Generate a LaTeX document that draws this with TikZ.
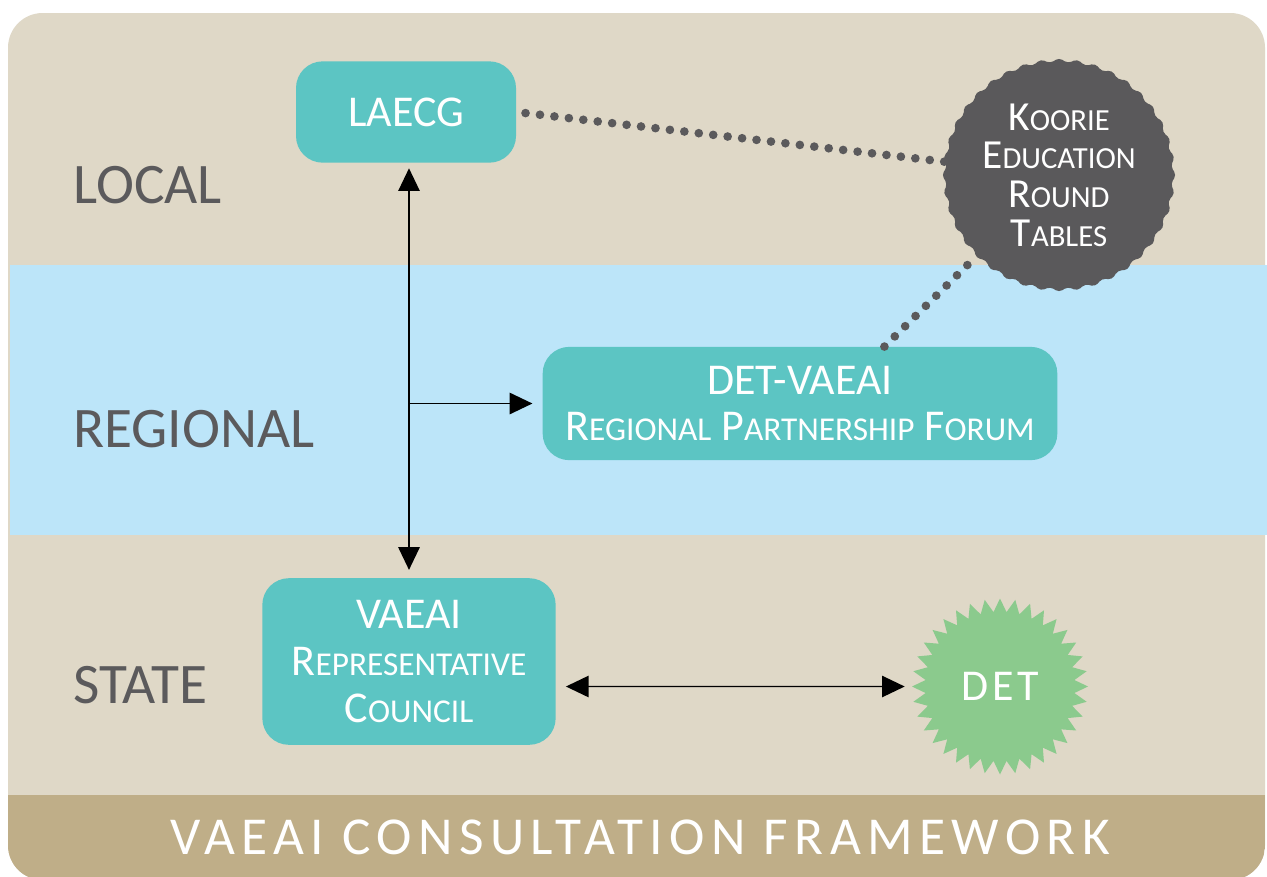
\documentclass[tikz,border=0pt]{standalone}
\usepackage{fontspec}
\setmainfont{Carlito}
\usetikzlibrary{arrows.meta, positioning, shapes.symbols, calc}

\definecolor{bandbeige}{HTML}{DFD8C7}
\definecolor{bandblue}{HTML}{BCE5F9}
\definecolor{boxteal}{HTML}{5CC5C3}
\definecolor{foottan}{HTML}{BFAE88}
\definecolor{labelgray}{HTML}{5B5A5C}
\definecolor{roundgray}{HTML}{5A595B}
\definecolor{detgreen}{HTML}{8BCA8D}

% small caps by hand: big initial, smaller capitals after it
\newcommand{\smcap}[3][25]{#2{\fontsize{#1}{#1}\selectfont #3}}

\begin{document}
\begin{tikzpicture}[
        x=0.75pt, y=-0.75pt,
        level/.style={
            anchor=base west,
            inner sep=0pt,
            text=labelgray,
            font=\fontsize{43}{43}\selectfont
        },
        box/.style={
            fill=boxteal,
            rounded corners=20pt,
            inner sep=0pt,
            align=center,
            text=white,
            font=\fontsize{33}{35}\selectfont
        },
        roundtable/.style={
            starburst, random starburst=0,
            starburst points=40,
            starburst point height=4pt,
            rounded corners=3pt,
            minimum size=176pt,
            inner sep=0pt,
            fill=roundgray,
            align=center,
            text=white,
            font=\fontsize{31}{29}\selectfont
        },
        seal/.style={
            starburst, random starburst=0,
            starburst points=36,
            starburst point height=10pt,
            minimum size=132pt,
            inner sep=0pt,
            fill=detgreen,
            text=white,
            font=\fontsize{33}{33}\selectfont\addfontfeatures{LetterSpace=8}
        },
        banner/.style={
            anchor=base,
            inner sep=0pt,
            text=white,
            font=\fontsize{40}{40}\selectfont\addfontfeatures{LetterSpace=12}
        },
        twoway/.style={
            {Triangle[length=17pt, width=16pt]}-{Triangle[length=17pt, width=16pt]},
            line width=1.1pt
        },
        oneway/.style={
            -{Triangle[length=17pt, width=16pt]},
            line width=1.1pt
        },
        dots/.style={
            labelgray,
            line width=6.5pt,
            line cap=round,
            dash pattern=on 0pt off 10.9pt
        }
    ]

    \useasboundingbox (0,0) rectangle (1267,876);
    \fill[white] (0,0) rectangle (1267,876);

    % bands
    \fill[bandbeige, rounded corners=26pt] (8,13) rectangle (1265,880);
    \fill[bandblue] (10,265) rectangle (1267,535);
    \begin{scope}
        \clip[rounded corners=26pt] (8,13) rectangle (1265,880);
        \fill[foottan] (8,795) rectangle (1265,880);
    \end{scope}

    \node[level] (local) at (73,203) {LOCAL};
    \node[level] (regional) at (73,447) {REGIONAL};
    \node[level] (state) at (73,703) {STATE};

    \node[banner] (title) at (640,854) {VAEAI CONSULTATION FRAMEWORK};

    % bodies
    \node[box, minimum width=165pt, minimum height=76pt] (laecg) at (406,112) {LAECG};
    \node[box, minimum width=386pt, minimum height=85pt] (forum) at (800,403.5)
        {DET-VAEAI\\\smcap{R}{EGIONAL} \smcap{P}{ARTNERSHIP} \smcap{F}{ORUM}};
    \node[box, minimum width=220pt, minimum height=125pt] (vaeai) at (409,661.5)
        {VAEAI\\\smcap{R}{EPRESENTATIVE}\\\smcap{C}{OUNCIL}};

    \node[roundtable] (koorie) at (1059,175)
        {\smcap[23]{K}{OORIE}\\\smcap[23]{E}{DUCATION}\\\smcap[23]{R}{OUND}\\\smcap[23]{T}{ABLES}};
    \node[seal] (det) at (1000,686.5) {DET};

    % links
    \draw[dots, shorten <=7pt] (laecg.east) -- (koorie);
    \draw[dots] (forum.34) -- (koorie);

    \draw[twoway, shorten <=4pt, shorten >=6pt] (laecg.south -| vaeai.north) -- (vaeai.north);
    \draw[oneway, shorten >=7.5pt] (vaeai.north |- forum.west) -- (forum.west);
    \draw[twoway, shorten <=7.5pt, shorten >=5pt] (vaeai.east |- det) -- (det);

\end{tikzpicture}
\end{document}
